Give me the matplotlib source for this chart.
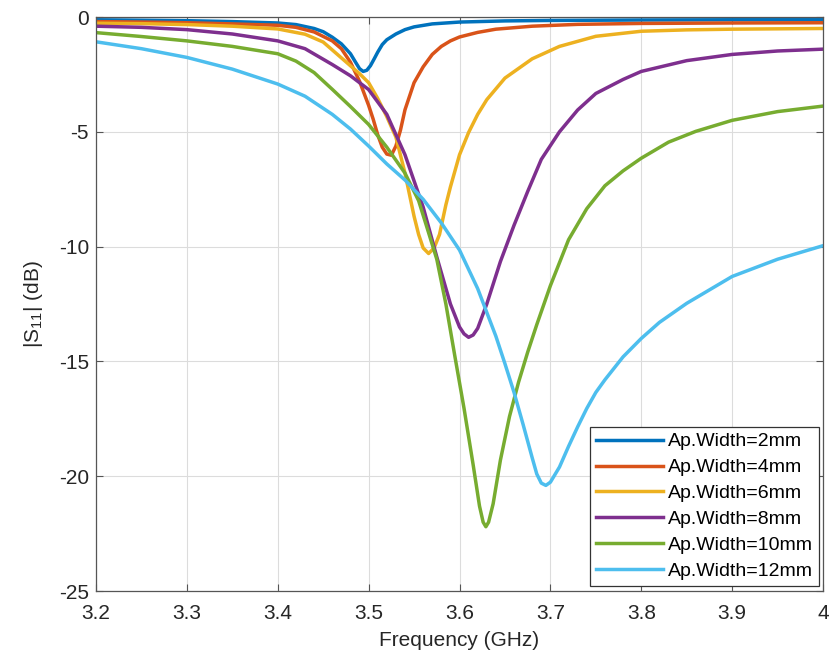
import numpy as np
import matplotlib
matplotlib.use('Agg')
import matplotlib.pyplot as plt

# Frequency (GHz) and |S11| (dB) for each aperture width
f_2mm = [3.2, 3.25, 3.3, 3.35, 3.4, 3.42, 3.44, 3.45, 3.46, 3.47, 3.48, 3.485, 3.49, 3.494,
         3.498, 3.502, 3.506, 3.51, 3.515, 3.52, 3.53, 3.54, 3.55, 3.57, 3.6, 3.65, 3.7, 3.8, 3.9, 4.0]
s_2mm = [-0.12, -0.14, -0.16, -0.2, -0.26, -0.33, -0.5, -0.64, -0.88, -1.17, -1.6, -1.93, -2.25, -2.37,
         -2.32, -2.12, -1.83, -1.53, -1.2, -0.99, -0.74, -0.55, -0.43, -0.3, -0.22, -0.17, -0.15, -0.13, -0.12, -0.12]

f_4mm = [3.2, 3.25, 3.3, 3.35, 3.4, 3.42, 3.44, 3.46, 3.47, 3.48, 3.49, 3.5, 3.505, 3.51, 3.515,
         3.52, 3.525, 3.53, 3.535, 3.54, 3.545, 3.55, 3.56, 3.57, 3.58, 3.59, 3.6, 3.62, 3.64, 3.68,
         3.73, 3.8, 3.9, 4.0]
s_4mm = [-0.2, -0.22, -0.25, -0.3, -0.36, -0.45, -0.65, -1.04, -1.38, -1.97, -2.8, -3.85, -4.45, -5.13, -5.67,
         -5.97, -6.02, -5.62, -4.93, -4.04, -3.45, -2.86, -2.17, -1.63, -1.28, -1.04, -0.87, -0.67, -0.53, -0.4,
         -0.32, -0.28, -0.26, -0.25]

f_6mm = [3.2, 3.25, 3.3, 3.35, 3.4, 3.43, 3.45, 3.47, 3.49, 3.5, 3.51, 3.52, 3.53, 3.54, 3.55, 3.555,
         3.56, 3.566, 3.572, 3.578, 3.585, 3.59, 3.6, 3.61, 3.62, 3.63, 3.65, 3.68, 3.71, 3.75, 3.8,
         3.85, 3.9, 4.0]
s_6mm = [-0.27, -0.29, -0.33, -0.4, -0.52, -0.75, -1.09, -1.78, -2.47, -2.86, -3.55, -4.34, -5.23, -6.8, -8.68, -9.47,
         -10.06, -10.3, -10.06, -9.47, -8.18, -7.4, -6.0, -5.03, -4.24, -3.6, -2.66, -1.82, -1.28, -0.84, -0.62,
         -0.56, -0.53, -0.5]

f_8mm = [3.2, 3.25, 3.3, 3.35, 3.4, 3.43, 3.46, 3.48, 3.5, 3.52, 3.54, 3.56, 3.575, 3.59, 3.6, 3.605,
         3.61, 3.615, 3.62, 3.63, 3.645, 3.66, 3.675, 3.69, 3.71, 3.73, 3.75, 3.78, 3.8, 3.85, 3.9,
         3.95, 4.0]
s_8mm = [-0.4, -0.45, -0.55, -0.74, -1.04, -1.38, -2.07, -2.56, -3.16, -4.24, -6.0, -8.28, -10.45, -12.5, -13.5, -13.8,
         -13.95, -13.85, -13.56, -12.5, -10.65, -9.07, -7.6, -6.2, -5.0, -4.05, -3.33, -2.72, -2.37, -1.9, -1.63,
         -1.48, -1.4]

f_10mm = [3.2, 3.25, 3.3, 3.35, 3.4, 3.42, 3.44, 3.46, 3.48, 3.5, 3.52, 3.54, 3.555, 3.565, 3.575,
          3.585, 3.595, 3.605, 3.615, 3.622, 3.626, 3.629, 3.632, 3.637, 3.645, 3.655, 3.665, 3.675,
          3.685, 3.7, 3.72, 3.74, 3.76, 3.78, 3.8, 3.83, 3.86, 3.9, 3.95, 4.0]
s_10mm = [-0.68, -0.85, -1.04, -1.28, -1.6, -1.92, -2.42, -3.15, -3.9, -4.68, -5.67, -6.8, -8.0, -9.27, -10.55,
          -12.5, -14.8, -17.05, -19.5, -21.3, -22.0, -22.2, -22.0, -21.2, -19.3, -17.4, -15.9, -14.6,
          -13.4, -11.7, -9.7, -8.35, -7.35, -6.7, -6.15, -5.45, -4.98, -4.5, -4.12, -3.88]

f_12mm = [3.2, 3.25, 3.3, 3.35, 3.4, 3.43, 3.46, 3.48, 3.5, 3.52, 3.54, 3.56, 3.58, 3.6, 3.62, 3.64,
          3.65, 3.66, 3.67, 3.68, 3.685, 3.69, 3.695, 3.7, 3.71, 3.72, 3.73, 3.74, 3.75, 3.76, 3.78,
          3.8, 3.82, 3.85, 3.9, 3.95, 4.0]
s_12mm = [-1.08, -1.38, -1.76, -2.27, -2.92, -3.45, -4.24, -4.88, -5.62, -6.4, -7.1, -7.94, -8.97, -10.15, -11.83, -13.9,
          -15.1, -16.35, -17.75, -19.2, -19.9, -20.3, -20.4, -20.26, -19.6, -18.7, -17.85, -17.05, -16.35, -15.8, -14.8,
          -14.0, -13.3, -12.47, -11.3, -10.55, -9.96]

labels = ['Ap.Width=2mm', 'Ap.Width=4mm', 'Ap.Width=6mm',
          'Ap.Width=8mm', 'Ap.Width=10mm', 'Ap.Width=12mm']
colors = ['#0072BD', '#D95319', '#EDB120', '#7E2F8E', '#77AC30', '#4DBEEE']

freqs = [f_2mm, f_4mm, f_6mm, f_8mm, f_10mm, f_12mm]
s11 = [s_2mm, s_4mm, s_6mm, s_8mm, s_10mm, s_12mm]

plt.rcParams['font.family'] = ['Liberation Sans', 'DejaVu Sans']
plt.rcParams['axes.unicode_minus'] = False
plt.rcParams['mathtext.fontset'] = 'custom'
plt.rcParams['mathtext.rm'] = 'Liberation Sans'
plt.rcParams['mathtext.it'] = 'Liberation Sans'

fig = plt.figure(figsize=(8.32, 6.67), dpi=100)
ax = fig.add_axes([0.1154, 0.1139, 0.8738, 0.8606])

for f, s, c, lab in zip(freqs, s11, colors, labels):
    ax.plot(f, s, color=c, linewidth=2.5, label=lab, solid_joinstyle='round')

ax.set_xlim(3.2, 4.0)
ax.set_ylim(-25, 0)
ax.set_xticks(np.arange(3.2, 4.01, 0.1))
ax.set_xticklabels(['3.2', '3.3', '3.4', '3.5', '3.6', '3.7', '3.8', '3.9', '4'])
ax.set_yticks([-25, -20, -15, -10, -5, 0])
ax.set_yticklabels(['-25', '-20', '-15', '-10', '-5', '0'])

ax.grid(True, color='#dcdcdc', linewidth=0.8)
ax.set_axisbelow(True)
ax.tick_params(direction='in', top=True, right=True, labelsize=15, length=5,
               color='#555555', labelcolor='#262626')
ax.tick_params(axis='x', pad=9)
ax.tick_params(axis='y', pad=5)
for sp in ax.spines.values():
    sp.set_color('#555555')
    sp.set_linewidth(0.9)

ax.set_xlabel('Frequency (GHz)', fontsize=15, color='#262626', labelpad=6)
ax.set_ylabel(r'|S$_{11}$| (dB)', fontsize=15, color='#262626', labelpad=10)

leg = ax.legend(loc='lower right', bbox_to_anchor=(0.9945, 0.0087), borderaxespad=0,
                fontsize=14, frameon=True, fancybox=False, framealpha=1,
                edgecolor='#333333', handlelength=3.45, handletextpad=0.26,
                labelspacing=0.43, borderpad=0.3)
leg.get_frame().set_linewidth(0.9)

fig.savefig('out.png', dpi=100)
